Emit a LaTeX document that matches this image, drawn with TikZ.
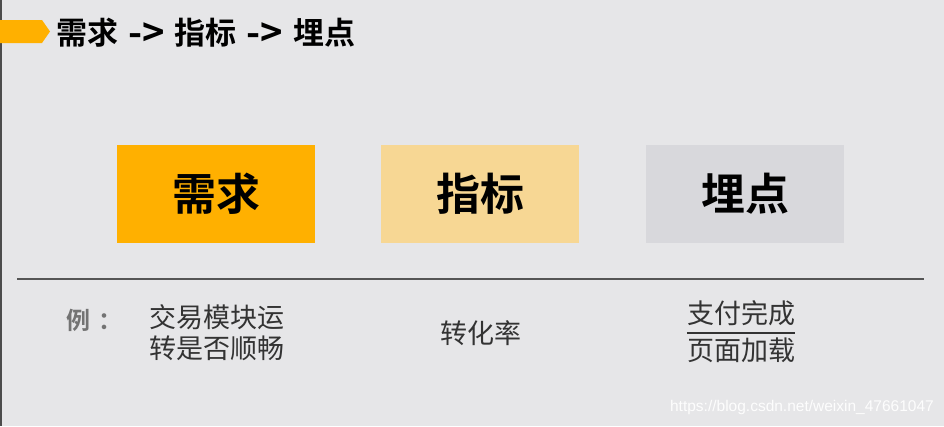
\documentclass[tikz,border=0pt]{standalone}
\usepackage{fontspec}
\newfontfamily\cjk{Noto Sans CJK SC}[BoldFont={Noto Sans CJK SC Bold}]
\newfontfamily\wm{Liberation Sans}
\definecolor{bg}{HTML}{E6E6E8}
\definecolor{orng}{HTML}{FFB000}
\definecolor{lorng}{HTML}{F7D794}
\definecolor{lgray}{HTML}{D8D8DC}
\definecolor{txt}{HTML}{333333}
\definecolor{rulec}{HTML}{555555}
\tikzset{
  box/.style={minimum width=198pt, minimum height=98pt, inner sep=0pt, font=\cjk\bfseries\fontsize{44}{48}\selectfont, text=black},
  body/.style={font=\cjk\fontsize{27}{31}\selectfont, text=txt, inner sep=0pt},
}
\newcommand{\tarr}{\hspace{10pt}\raisebox{-1.5pt}{\fontsize{38}{40}\selectfont -{}>}\hspace{10pt}}
\begin{document}
\begin{tikzpicture}[x=1pt,y=-1pt]
\fill[bg] (0,0) rectangle (944,426);
\useasboundingbox (0,0) rectangle (944,426);
\fill[black!70] (0,0) rectangle (2,426);
% title marker
\fill[orng] (0,20) -- (42,20) -- (50,31.5) -- (42,43) -- (0,43) -- cycle;
\node[anchor=west, inner sep=0pt, font=\cjk\bfseries\fontsize{31}{34}\selectfont] (title) at (56,33) {需求\tarr 指标\tarr 埋点};
% boxes
\node[box, fill=orng] (req) at (216,194) {需求};
\node[box, fill=lorng] (ind) at (480,194) {指标};
\node[box, fill=lgray] (pt) at (745,194) {埋点};
% rule
\coordinate (ra) at (17,279);
\coordinate (rb) at (924,279);
\draw[rulec, line width=1.6pt] (ra) -- (rb);
% bottom
\node[anchor=west, inner sep=0pt, font=\cjk\bfseries\fontsize{24}{26}\selectfont, text=black!55] (ex) at (66,320) {例\hspace{8pt}：};
\node[body, anchor=west, align=left] (reqd) at (149,333) {交易模块运\\转是否顺畅};
\node[body] (indd) at (481,333) {转化率};
\node[body, anchor=south] (num) at (741,326) {支付完成};
\node[body, anchor=north] (den) at (741,338) {页面加载};
\draw[txt, line width=1.4pt] (num.south west) ++(0,7) coordinate (fa) -- (num.south east |- fa) coordinate (fb);
\node[anchor=east, inner sep=0pt, font=\wm\fontsize{15.5}{18}\selectfont, text=white!92!bg] (mark) at (934,407) {https://blog.csdn.net/weixin\_47661047};
\end{tikzpicture}
\end{document}
